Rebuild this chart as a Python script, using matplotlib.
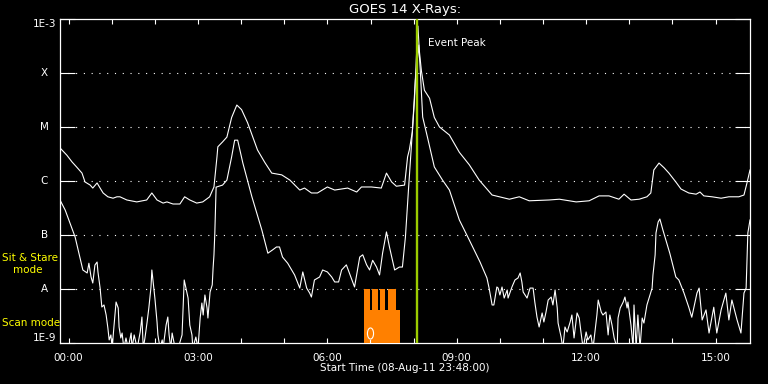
import matplotlib
matplotlib.use("Agg")
import matplotlib.pyplot as plt
from matplotlib.path import Path
from matplotlib.transforms import Affine2D, blended_transform_factory

# --- GOES 14, 1-8 A (long channel), hours after 00:00 on 09-Aug-11 ---
long_t = [-0.2, -0.04, 0.08, 0.19, 0.31, 0.38, 0.50, 0.56, 0.66, 0.73, 0.80, 0.91,
          1.03, 1.12, 1.19, 1.35, 1.58, 1.81, 1.93, 2.05, 2.19, 2.28, 2.42, 2.58,
          2.69, 2.81, 2.97, 3.11, 3.27, 3.37, 3.44, 3.46, 3.57, 3.67, 3.78, 3.90,
          4.01, 4.15, 4.38, 4.55, 4.71, 4.94, 5.13, 5.36, 5.47, 5.63, 5.77, 6.00,
          6.17, 6.47, 6.68, 6.79, 7.02, 7.25, 7.37, 7.49, 7.60, 7.79, 7.86, 7.90,
          7.97, 8.02, 8.06, 8.10, 8.13, 8.18, 8.25, 8.37, 8.48, 8.60, 8.83, 9.06,
          9.29, 9.52, 9.82, 10.22, 10.45, 10.68, 11.14, 11.38, 11.77, 12.07, 12.30,
          12.53, 12.76, 12.88, 13.04, 13.23, 13.41, 13.50, 13.57, 13.69, 13.81,
          13.92, 14.08, 14.20, 14.38, 14.55, 14.64, 14.73, 14.92, 15.13, 15.31,
          15.54, 15.66, 15.73, 15.80]
long_flux = [4.1e-6, 3.0e-6, 2.25e-6, 1.8e-6, 1.4e-6, 9.6e-7, 8.4e-7, 7.4e-7, 9.2e-7,
             7.4e-7, 6.0e-7, 5.1e-7, 4.8e-7, 5.1e-7, 5.1e-7, 4.45e-7, 4.1e-7, 4.45e-7,
             6.0e-7, 4.45e-7, 3.9e-7, 4.1e-7, 3.75e-7, 3.75e-7, 5.1e-7, 4.45e-7,
             3.9e-7, 4.1e-7, 5.1e-7, 7.75e-7, 2.8e-6, 4.3e-6, 5.3e-6, 6.5e-6, 1.5e-5,
             2.55e-5, 2.1e-5, 1.2e-5, 3.75e-6, 2.2e-6, 1.4e-6, 1.3e-6, 1.04e-6, 6.8e-7,
             7.4e-7, 6.0e-7, 6.0e-7, 7.75e-7, 6.8e-7, 7.4e-7, 6.25e-7, 7.75e-7,
             7.75e-7, 7.4e-7, 1.4e-6, 9.6e-7, 8.0e-7, 8.4e-7, 2.8e-6, 3.75e-6, 8.1e-6,
             3.2e-5, 1.7e-4, 7.4e-4, 2.7e-4, 1.1e-4, 4.8e-5, 3.4e-5, 1.5e-5, 1.0e-5,
             7.1e-6, 3.4e-6, 2.0e-6, 1.04e-6, 5.5e-7, 4.6e-7, 5.1e-7, 4.3e-7, 4.45e-7,
             4.6e-7, 4.1e-7, 4.3e-7, 5.3e-7, 5.3e-7, 4.6e-7, 5.7e-7, 4.45e-7, 4.6e-7,
             5.1e-7, 6.0e-7, 1.6e-6, 2.15e-6, 1.75e-6, 1.4e-6, 9.6e-7, 7.1e-7, 6.0e-7,
             5.7e-7, 6.25e-7, 5.3e-7, 5.1e-7, 4.8e-7, 5.1e-7, 5.1e-7, 5.5e-7, 9.2e-7,
             1.6e-6]

# --- GOES 14, 0.5-4 A (short channel); 8e-10 = below the plot floor ---
short_t = [-0.2, -0.08, 0.03, 0.15, 0.22, 0.33, 0.43, 0.47, 0.52, 0.56,
           0.61, 0.66, 0.68, 0.73, 0.77, 0.82, 0.87, 0.91, 0.94, 0.98,
           1.01, 1.05, 1.10, 1.15, 1.17, 1.21, 1.24, 1.28, 1.33, 1.38,
           1.45, 1.47, 1.52, 1.59, 1.66, 1.70, 1.73, 1.77, 1.82, 1.86,
           1.91, 1.93, 1.96, 2.00, 2.05, 2.07, 2.12, 2.17, 2.19, 2.26,
           2.30, 2.33, 2.37, 2.40, 2.47, 2.54, 2.63, 2.68, 2.72, 2.77,
           2.81, 2.86, 2.88, 2.95, 3.00, 3.05, 3.09, 3.12, 3.16, 3.21,
           3.23, 3.28, 3.33, 3.35, 3.37, 3.39, 3.42, 3.57, 3.67, 3.78,
           3.85, 3.92, 4.04, 4.25, 4.48, 4.62, 4.73, 4.82, 4.89, 4.96,
           5.08, 5.24, 5.36, 5.43, 5.52, 5.59, 5.63, 5.70, 5.82, 5.89,
           6.00, 6.10, 6.17, 6.26, 6.33, 6.44, 6.51, 6.63, 6.75, 6.82,
           6.91, 6.98, 7.05, 7.14, 7.21, 7.28, 7.37, 7.44, 7.56, 7.67,
           7.74, 7.81, 7.88, 7.97, 8.04, 8.12, 8.16, 8.21, 8.32, 8.48,
           8.67, 8.83, 9.06, 9.29, 9.54, 9.70, 9.75, 9.82, 9.86, 9.93,
           9.96, 10.00, 10.05, 10.10, 10.17, 10.19, 10.28, 10.35, 10.42, 10.47,
           10.51, 10.54, 10.63, 10.70, 10.77, 10.81, 10.86, 10.91, 10.98, 11.02,
           11.07, 11.12, 11.19, 11.23, 11.28, 11.33, 11.35, 11.42, 11.46, 11.51,
           11.56, 11.63, 11.67, 11.72, 11.79, 11.84, 11.88, 11.93, 12.00, 12.04,
           12.11, 12.16, 12.25, 12.28, 12.35, 12.39, 12.46, 12.51, 12.55, 12.60,
           12.65, 12.72, 12.74, 12.79, 12.86, 12.90, 12.95, 12.97, 13.04, 13.09,
           13.11, 13.16, 13.20, 13.25, 13.30, 13.34, 13.41, 13.46, 13.53, 13.55,
           13.60, 13.62, 13.67, 13.71, 13.78, 13.94, 14.08, 14.15, 14.27, 14.38,
           14.45, 14.57, 14.62, 14.69, 14.78, 14.85, 14.96, 15.03, 15.13, 15.24,
           15.31, 15.38, 15.50, 15.59, 15.66, 15.71, 15.75, 15.80]
short_flux = [4.45e-7, 2.9e-7, 1.67e-7, 9.2e-8, 5.3e-8, 2.25e-8, 1.98e-8, 3.0e-8, 1.67e-8, 1.29e-8,
              2.78e-8, 3.16e-8, 2.07e-8, 1.04e-8, 4.64e-9, 5.06e-9, 3.3e-9, 1.9e-9, 1.14e-9, 1.41e-9,
              8e-10, 1.98e-9, 5.74e-9, 4.45e-9, 1.98e-9, 1.24e-9, 1.53e-9, 8e-10, 1.24e-9, 8e-10,
              1.53e-9, 8e-10, 1.41e-9, 8e-10, 1.6e-9, 3.03e-9, 8e-10, 1.24e-9, 2.45e-9, 4.45e-9,
              1.09e-8, 2.25e-8, 1.35e-8, 6.8e-9, 2.45e-9, 1.41e-9, 8e-10, 1.14e-9, 8e-10, 2.15e-9,
              3.03e-9, 1.41e-9, 8e-10, 1.53e-9, 8e-10, 8e-10, 1.41e-9, 1.47e-8, 1.04e-8, 6.8e-9,
              2.15e-9, 1.41e-9, 8e-10, 1.29e-9, 8e-10, 2.9e-9, 5.5e-9, 3.3e-9, 7.75e-9, 4.45e-9,
              2.9e-9, 8.8e-9, 1.19e-8, 2.45e-8, 4.27e-8, 1.09e-7, 7.7e-7, 8.4e-7, 1.04e-6, 2.8e-6,
              5.7e-6, 5.7e-6, 2.15e-6, 5.1e-7, 1.24e-7, 4.6e-8, 5.3e-8, 6.0e-8, 6.0e-8, 3.9e-8,
              3.0e-8, 1.82e-8, 1.04e-8, 2.07e-8, 1.04e-8, 8.4e-9, 7.1e-9, 1.47e-8, 1.67e-8, 2.25e-8,
              2.07e-8, 1.67e-8, 1.35e-8, 1.35e-8, 2.25e-8, 2.8e-8, 1.98e-8, 1.09e-8, 3.9e-8, 4.3e-8,
              2.8e-8, 2.25e-8, 3.4e-8, 2.55e-8, 1.82e-8, 4.6e-8, 1.14e-7, 6.0e-8, 2.25e-8, 2.55e-8,
              2.55e-8, 9.2e-8, 6.8e-7, 8.1e-6, 7.4e-5, 3.3e-4, 9.2e-5, 1.53e-5, 6.5e-6, 1.82e-6,
              1.04e-6, 6.8e-7, 1.9e-7, 8.1e-8, 3.16e-8, 1.6e-8, 1.04e-8, 5.06e-9, 5.06e-9, 1.09e-8,
              1.04e-8, 7.75e-9, 1.09e-8, 6.8e-9, 9.6e-9, 6.8e-9, 1.09e-8, 1.47e-8, 1.6e-8, 1.98e-8,
              1.35e-8, 8.8e-9, 6.8e-9, 1.04e-8, 1.04e-8, 5.74e-9, 3.03e-9, 1.98e-9, 3.6e-9, 2.45e-9,
              3.75e-9, 6.25e-9, 7.1e-9, 5.06e-9, 9.6e-9, 4.45e-9, 2.34e-9, 1.29e-9, 8e-10, 1.98e-9,
              1.6e-9, 2.45e-9, 3.3e-9, 1.24e-9, 3.6e-9, 2.9e-9, 1.6e-9, 8e-10, 1.6e-9, 1.14e-9,
              1.41e-9, 8e-10, 3.3e-9, 6.25e-9, 3.75e-9, 3.3e-9, 3.75e-9, 1.41e-9, 3.3e-9, 2.15e-9,
              1.24e-9, 8e-10, 2.9e-9, 4.45e-9, 5.74e-9, 7.1e-9, 4.45e-9, 5.74e-9, 2.15e-9, 8e-10,
              5.06e-9, 8e-10, 3.3e-9, 8e-10, 2.9e-9, 2.34e-9, 5.06e-9, 6.8e-9, 1.04e-8, 1.82e-8,
              4.27e-8, 1.09e-7, 1.74e-7, 1.98e-7, 1.24e-7, 4.6e-8, 1.67e-8, 1.47e-8, 8.4e-9, 4.6e-9,
              3.0e-9, 8.4e-9, 1.04e-8, 2.67e-9, 4.1e-9, 1.53e-9, 4.6e-9, 1.53e-9, 4.1e-9, 8.4e-9,
              2.67e-9, 6.25e-9, 2.67e-9, 1.53e-9, 8.4e-9, 1.04e-8, 1.09e-7, 1.9e-7]

# --- observing mode bars (sit & stare = 1e-8, scan = 4.1e-9) ---
mode_edges = [6.86, 6.98, 7.04, 7.17, 7.23, 7.34, 7.40, 7.60, 7.69]
mode_levels = [1e-8, 4.1e-9, 1e-8, 4.1e-9, 1e-8, 4.1e-9, 1e-8, 4.1e-9]
obs_mark_t = 6.98
obs_mark_flux = 1.5e-9

event_peak_t = 8.07

xtick_hours = list(range(0, 16))
xtick_every = 3
ytick_vals = [1e-9, 1e-8, 1e-7, 1e-6, 1e-5, 1e-4, 1e-3]
ytick_labels = ["1E-9", "A", "B", "C", "M", "X", "1E-3"]

WHITE = "white"
YELLOW = "#ffff00"
FS = 7.5

fig = plt.figure(figsize=(7.68, 3.84), dpi=100, facecolor="black")
ax = fig.add_axes([60 / 768, 41 / 384, 690 / 768, 324 / 384])
ax.set_facecolor("black")
ax.set_yscale("log")
ax.set_ylim(1e-9, 1e-3)
ax.set_xlim(-0.2, 15.8)

for s in ax.spines.values():
    s.set_color(WHITE)
    s.set_linewidth(0.9)

# dotted class lines
for v in ytick_vals[1:-1]:
    ax.axhline(v, color=WHITE, lw=0.8, ls=(0, (1, 6)), zorder=1)

ax.plot(long_t, long_flux, color=WHITE, lw=0.8, zorder=3)
ax.plot(short_t, short_flux, color=WHITE, lw=0.8, zorder=3)

ax.stairs(mode_levels, mode_edges, baseline=1e-10, fill=True,
          color="#ff8000", zorder=4)

ell = Path.unit_circle().transformed(Affine2D().scale(0.55, 1.0))
ax.plot([obs_mark_t], [obs_mark_flux], marker=ell, ms=8, mfc="none",
        mec=WHITE, mew=0.8, ls="none", zorder=5)
ax.plot([obs_mark_t, obs_mark_t], [1.15e-9, 1e-9], color=WHITE, lw=0.8, zorder=5)

ax.axvline(event_peak_t, color="#9ccc00", lw=1.7, zorder=6)
ax.text(event_peak_t + 0.26, 3.6e-4, "Event Peak", color=WHITE, fontsize=FS,
        va="center", ha="left")

# ticks
ax.set_xticks(xtick_hours)
ax.set_xticklabels([f"{h:02d}:00" if h % xtick_every == 0 else "" for h in xtick_hours])
ax.yaxis.set_minor_locator(matplotlib.ticker.NullLocator())
ax.set_yticks(ytick_vals)
ax.set_yticklabels([])
ax.tick_params(axis="x", which="major", direction="in", length=3.6, width=0.8,
               color=WHITE, labelcolor=WHITE, labelsize=FS, top=True, pad=7)
ax.tick_params(axis="y", which="major", direction="in", length=11, width=0.8,
               color=WHITE, right=True)

tr = blended_transform_factory(ax.transAxes, ax.transData)
for v, lab in zip(ytick_vals, ytick_labels):
    if lab.startswith("1E"):
        ax.text(-0.006, v, lab, transform=tr, color=WHITE, fontsize=FS,
                ha="right", va="bottom" if v == ytick_vals[0] else "top")
    else:
        ax.text(-0.023, v, lab, transform=tr, color=WHITE, fontsize=FS,
                ha="center", va="center")

fig.text(405 / 768, 1 - 10 / 384, "GOES 14 X-Rays:", color=WHITE, fontsize=9.5,
         ha="center", va="center")
fig.text(405 / 768, 1 - 368 / 384, "Start Time (08-Aug-11 23:48:00)", color=WHITE,
         fontsize=7.5, ha="center", va="center")

fig.text(2 / 768, 1 - 258 / 384, "Sit & Stare", color=YELLOW, fontsize=FS,
         ha="left", va="center")
fig.text(13 / 768, 1 - 270 / 384, "mode", color=YELLOW, fontsize=FS,
         ha="left", va="center")
fig.text(2 / 768, 1 - 323 / 384, "Scan mode", color=YELLOW, fontsize=FS,
         ha="left", va="center")

fig.savefig("out.png", dpi=100, facecolor="black")
